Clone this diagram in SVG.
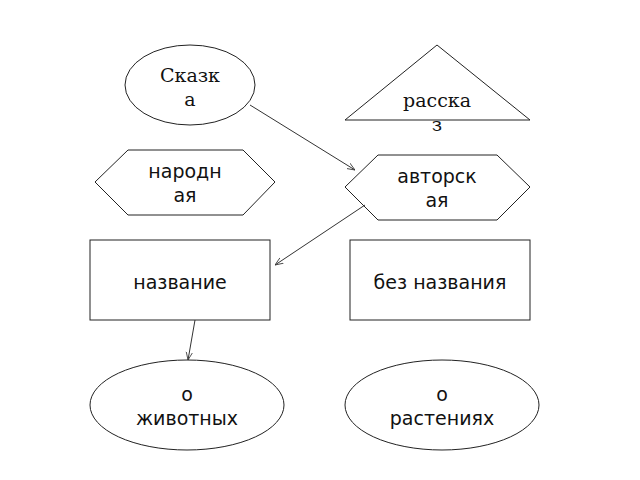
<svg xmlns="http://www.w3.org/2000/svg" width="640" height="480" viewBox="0 0 640 480">
<defs>
<style>
.s{fill:#fff;stroke:#222;stroke-width:1}
.t{font-family:"DejaVu Sans",sans-serif;font-size:19px;fill:#111;text-anchor:middle}
.ts{font-family:"DejaVu Serif",serif;font-size:19px;fill:#111;text-anchor:middle}
.c{stroke:#333;stroke-width:1;fill:none;marker-end:url(#a)}
</style>
<marker id="a" viewBox="0 0 10 10" refX="10" refY="5" markerWidth="8" markerHeight="8" orient="auto"><path d="M0,1 L10,5 L0,9" fill="none" stroke="#333"/></marker>
</defs>
<rect width="640" height="480" fill="#fff"/>
<g id="skazka"><ellipse class="s" cx="190" cy="85" rx="65" ry="40"/><text class="ts" x="190" y="82">Сказк</text><text class="ts" x="190" y="106">а</text></g>
<g id="rasskaz"><polygon class="s" points="437,45 530,120 345,120"/><text class="ts" x="437" y="107">расска</text><text class="ts" x="437" y="131">з</text></g>
<g id="narodnaya"><polygon class="s" points="95,182 128,150 243,150 275,182 243,215 128,215"/><text class="t" x="185" y="178">народн</text><text class="t" x="185" y="202">ая</text></g>
<g id="avtorskaya"><polygon class="s" points="345,187 378,155 497,155 530,187 497,220 378,220"/><text class="t" x="437" y="183">авторск</text><text class="t" x="437" y="207">ая</text></g>
<g id="nazvanie"><rect class="s" x="90" y="240" width="180" height="80"/><text class="t" x="180" y="289">название</text></g>
<g id="bez"><rect class="s" x="350" y="240" width="180" height="80"/><text class="t" x="440" y="289">без названия</text></g>
<g id="zhivotnye"><ellipse class="s" cx="187" cy="405" rx="97" ry="45"/><text class="t" x="187" y="401">о</text><text class="t" x="187" y="425">животных</text></g>
<g id="rasteniya"><ellipse class="s" cx="442" cy="405" rx="97" ry="45"/><text class="t" x="442" y="401">о</text><text class="t" x="442" y="425">растениях</text></g>
<g id="connectors">
<line class="c" x1="250" y1="105" x2="355" y2="170"/>
<line class="c" x1="365" y1="205" x2="275" y2="265"/>
<line class="c" x1="195" y1="320" x2="188" y2="360"/>
</g>
</svg>
